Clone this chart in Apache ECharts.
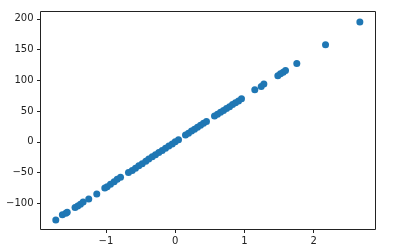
<!DOCTYPE html>
<html>
<head>
<meta charset="utf-8">
<script src="https://cdn.jsdelivr.net/npm/echarts@6/dist/echarts.min.js"></script>
<style>
html,body{margin:0;padding:0;background:#fff;}
#c{width:397px;height:252px;}
</style>
</head>
<body>
<div id="c"></div>
<script>
const xValues = [-1.725,-1.63,-1.58,-1.56,-1.447,-1.408,-1.369,-1.33,-1.249,-1.133,-1.017,-0.983,-0.935,-0.882,-0.838,-0.79,-0.675,-0.621,-0.574,-0.526,-0.477,-0.425,-0.382,-0.332,-0.285,-0.237,-0.188,-0.14,-0.092,-0.043,0.0,0.048,0.149,0.192,0.236,0.279,0.322,0.366,0.409,0.452,0.568,0.611,0.655,0.698,0.741,0.785,0.828,0.871,0.915,0.958,1.15,1.243,1.281,1.483,1.521,1.56,1.594,1.757,2.172,2.668];
const yValues = [-127,-118.5,-116,-114.5,-107,-104.5,-101.5,-98,-93,-85,-75,-73,-69,-65,-61,-57.5,-50,-46.5,-43,-39,-35.5,-31.5,-28,-24.5,-21,-17.5,-14,-10.5,-7,-3.5,0,3.5,11,14,17.5,20.5,23.5,27,30,33,42,45,48,51,54,57,60.5,63.5,66.5,70,84.5,90,94,107.5,110.5,113,116,127.5,158,195];
const xTicks = [-1, 0, 1, 2];
const yTicks = [-100, -50, 0, 50, 100, 150, 200];

const points = xValues.map((x, i) => [x, yValues[i]]);
const fmt = v => String(v).replace('-', '\u2212');

const chart = echarts.init(document.getElementById('c'), null, {renderer: 'canvas'});
chart.setOption({
  animation: false,
  backgroundColor: '#fff',
  grid: {left: 40.5, right: 21.5, top: 11.5, bottom: 22.5, show: true, borderColor: '#222', borderWidth: 1, backgroundColor: 'transparent'},
  xAxis: {
    type: 'value', min: -1.946, max: 2.894,
    splitLine: {show: false},
    axisLine: {show: false, onZero: false},
    axisTick: {show: true, inside: false, length: 3.5, lineStyle: {color: '#222'}, customValues: xTicks},
    axisLabel: {customValues: xTicks, formatter: fmt, color: '#222', fontFamily: 'DejaVu Sans', fontSize: 10, margin: 7}
  },
  yAxis: {
    type: 'value', min: -142.6, max: 211.9,
    splitLine: {show: false},
    axisLine: {show: false, onZero: false},
    axisTick: {show: true, inside: false, length: 3.5, lineStyle: {color: '#222'}, customValues: yTicks},
    axisLabel: {customValues: yTicks, formatter: fmt, color: '#222', fontFamily: 'DejaVu Sans', fontSize: 10, margin: 7}
  },
  series: [{
    type: 'scatter',
    data: points,
    symbolSize: 7,
    itemStyle: {color: '#1f77b4', opacity: 1}
  }]
});
</script>
</body>
</html>
